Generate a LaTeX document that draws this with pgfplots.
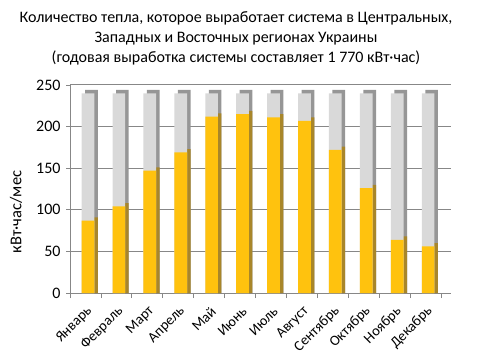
\documentclass[border=0pt]{standalone}
\usepackage{pgfplots}
\usepackage{pgfplotstable}
\pgfplotsset{compat=1.18}
\usepackage{fontspec}
\setmainfont{Carlito}
\definecolor{yfront}{HTML}{FFC20E}
\definecolor{yside}{HTML}{A8862A}
\definecolor{gfront}{HTML}{D9D9D9}
\definecolor{gside}{HTML}{969696}
\definecolor{gridc}{HTML}{878787}
\pgfplotstableread{
x y ys g gs
0 87 91 240 244
1 104 108 240 244
2 147 151 240 244
3 169 173 240 244
4 212 216 240 244
5 215 219 240 244
6 211 215 240 244
7 207 211 240 244
8 172 176 240 244
9 126 130 240 244
10 64 68 240 244
11 56 60 240 244
}\data
\begin{document}
\begin{tikzpicture}
\useasboundingbox (0,0) rectangle (502bp,358bp);
\node[align=center,font=\fontsize{16bp}{20bp}\selectfont] at (236bp,320bp)
 {Количество тепла, которое выработает система в Центральных,\\Западных и Восточных регионах Украины\\(годовая выработка системы составляет 1 770 кВт·час)};
\node[rotate=90,font=\fontsize{16.5bp}{18bp}\selectfont] at (16bp,146bp) {кВт·час/мес};
\begin{axis}[
 at={(70bp,65bp)}, anchor=south west, scale only axis,
 width=381bp, height=208bp,
 xmin=-0.58, xmax=11.74, ymin=0, ymax=250,
 ybar, bar width=12.7bp,
 axis x line*=bottom, axis y line*=left,
 axis line style={gridc, line width=0.8bp},
 ytick={0,50,...,250},
 ymajorgrids, grid style={gridc, line width=1bp},
 xtick={0,...,11},
 xticklabels={Январь,Февраль,Март,Апрель,Май,Июнь,Июль,Август,Сентябрь,Октябрь,Ноябрь,Декабрь},
 x tick label style={xshift=2bp, yshift=-12bp, rotate=45, anchor=east, font=\fontsize{14.5bp}{17bp}\selectfont, inner sep=0pt},
 y tick label style={font=\fontsize{16bp}{18bp}\selectfont, xshift=-2bp},
 /pgf/number format/assume math mode=true,
 tick align=outside,
 xtick style={draw=none},
 ytick style={gridc, line width=0.8bp},
 major tick length=4bp,
 extra x ticks={-0.58,0.42,1.42,2.42,3.42,4.42,5.42,6.42,7.42,8.42,9.42,10.42,11.42},
 extra x tick labels={},
 extra x tick style={grid=none, xtick style={draw=gridc, line width=0.8bp}, major tick length=5bp},
 clip=false,
]
\addplot[fill=gside, draw=none, bar shift=3.5bp] table[x=x,y=gs]{\data};
\addplot[fill=yside, draw=none, bar shift=3.5bp] table[x=x,y=ys]{\data};
\addplot[fill=gfront, draw=none, bar shift=0pt] table[x=x,y=g]{\data};
\addplot[fill=yfront, draw=none, bar shift=0pt] table[x=x,y=y]{\data};
\end{axis}
\end{tikzpicture}
\end{document}
